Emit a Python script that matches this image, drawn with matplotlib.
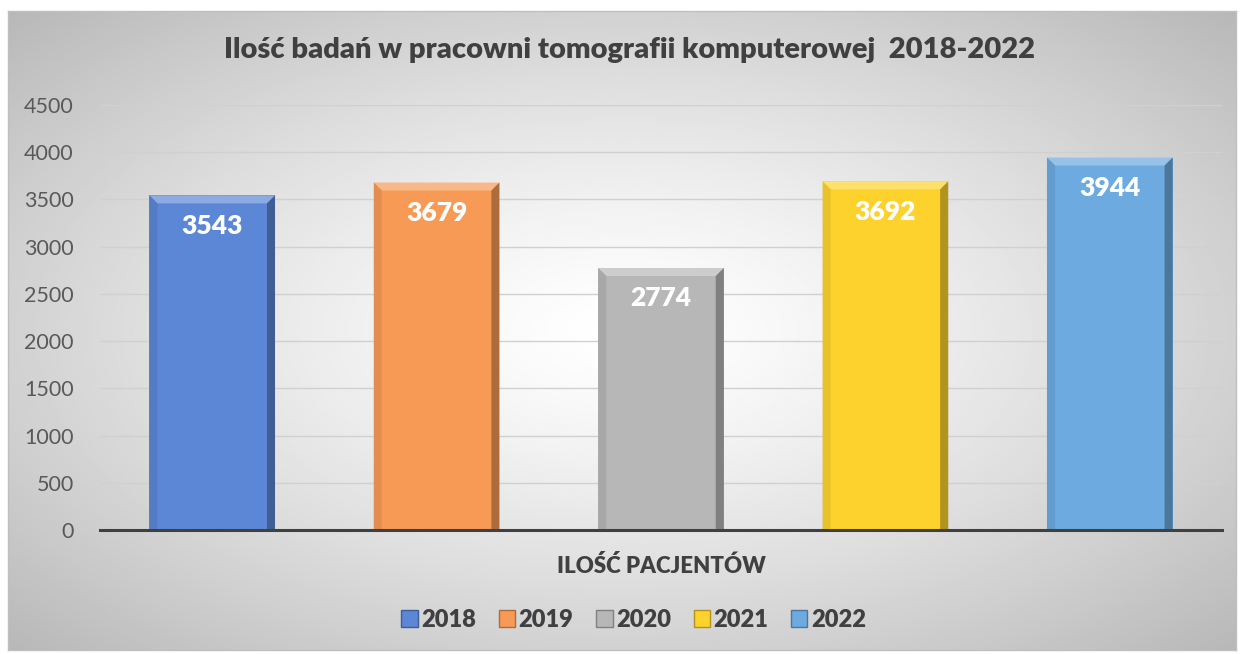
import matplotlib.pyplot as plt
import numpy as np
from matplotlib.patches import Polygon, Rectangle

plt.rcParams['font.family'] = ['Lato', 'DejaVu Sans']

# data
years = ['2018', '2019', '2020', '2021', '2022']
counts = [3543, 3679, 2774, 3692, 3944]
colors = ['#5B87D6', '#F79A55', '#B7B7B7', '#FDD22C', '#6CAAE0']
title = 'Ilość badań w pracowni tomografii komputerowej  2018-2022'
xlabel = 'ILOŚĆ PACJENTÓW'
yticks = list(range(0, 5000, 500))

fig = plt.figure(figsize=(12.4, 6.54), dpi=100)

# chart area background with radial gradient
bg = fig.add_axes([8 / 1240, 4 / 654, 1228 / 1240, 639 / 654], zorder=0)
yy, xx = np.mgrid[-1:1:300j, -1:1:600j]
r = np.sqrt(xx ** 2 + yy ** 2) / np.sqrt(2)
shade = 1.0 - 0.28 * np.clip(r, 0, 1) ** 1.3
bg.imshow(shade, cmap='gray', vmin=0, vmax=1, aspect='auto',
          extent=[0, 1, 0, 1], interpolation='bilinear')
bg.set_xticks([])
bg.set_yticks([])
for s in bg.spines.values():
    s.set_color('#BFBFBF')
    s.set_linewidth(1.0)

ax = fig.add_axes([100 / 1240, 124 / 654, 1122 / 1240, 425 / 654], zorder=1)
ax.set_facecolor('none')

x = np.arange(len(years))
width = 0.56
bars = ax.bar(x, counts, width=width, color=colors, zorder=3)

# bevel effect for each bar
bev_x = 0.036
bev_y = 85


def shade_col(c, f):
    rgb = np.array(plt.matplotlib.colors.to_rgb(c))
    if f > 0:
        return tuple(rgb + (1 - rgb) * f)
    return tuple(rgb * (1 + f))


for b, c in zip(bars, colors):
    x0 = b.get_x()
    x1 = x0 + b.get_width()
    h = b.get_height()
    top = Polygon([(x0, h), (x1, h), (x1 - bev_x, h - bev_y), (x0 + bev_x, h - bev_y)],
                  closed=True, color=shade_col(c, 0.3), zorder=4, lw=0)
    left = Polygon([(x0, 0), (x0, h), (x0 + bev_x, h - bev_y), (x0 + bev_x, 0)],
                   closed=True, color=shade_col(c, -0.08), zorder=4, lw=0)
    right = Polygon([(x1, 0), (x1, h), (x1 - bev_x, h - bev_y), (x1 - bev_x, 0)],
                    closed=True, color=shade_col(c, -0.3), zorder=4, lw=0)
    for p in (top, left, right):
        ax.add_patch(p)
    ax.text(b.get_x() + b.get_width() / 2, h - 320, f'{h:.0f}', ha='center', va='center',
            color='white', fontsize=19, fontweight='heavy', zorder=5)

ax.set_xlim(-0.5, len(years) - 0.5)
ax.set_ylim(0, 4500)
ax.set_yticks(yticks)
ax.set_yticklabels([str(v) for v in yticks], fontsize=15.5, color='#595959')
ax.set_xticks([])
ax.grid(axis='y', color='#D0D0D0', linewidth=1, zorder=1)
for s in ['top', 'right', 'left']:
    ax.spines[s].set_visible(False)
ax.spines['bottom'].set_color('#404040')
ax.spines['bottom'].set_linewidth(2.2)
ax.spines['bottom'].set_zorder(6)
ax.tick_params(axis='y', length=0, pad=19)

ax.set_xlabel(xlabel, fontsize=16, fontweight='heavy', color='#404040', labelpad=18)
fig.text(0.508, (654 - 50) / 654, title, ha='center', va='center', fontsize=21,
         fontweight='heavy', color='#404040')

handles = [Rectangle((0, 0), 1, 1, facecolor=c, edgecolor=shade_col(c, -0.3), lw=1)
           for c in colors]
leg = fig.legend(handles, years, loc='center', bbox_to_anchor=(0.511, (654 - 620) / 654),
                 ncol=5, frameon=False, handlelength=0.7, handleheight=0.7,
                 handletextpad=0.15, columnspacing=0.95,
                 prop={'size': 17, 'weight': 'heavy'})
for t in leg.get_texts():
    t.set_color('#404040')

fig.savefig('out.png', dpi=100)
